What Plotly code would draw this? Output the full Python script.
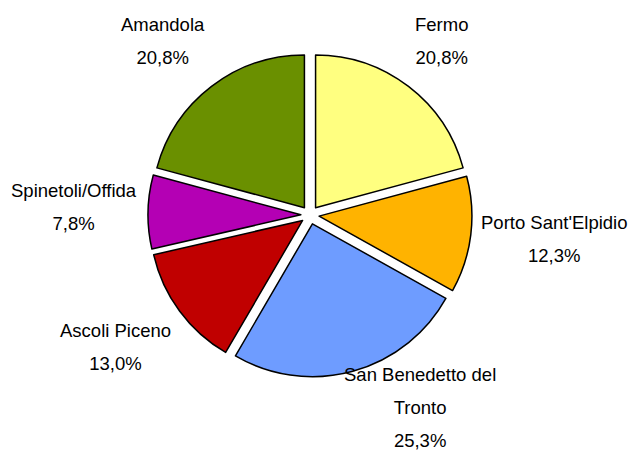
import math
import plotly.graph_objects as go

categories = ["Fermo", "Porto Sant'Elpidio", "San Benedetto del Tronto",
              "Ascoli Piceno", "Spinetoli/Offida", "Amandola"]
label_lines = [["Fermo"], ["Porto Sant'Elpidio"], ["San Benedetto del", "Tronto"],
               ["Ascoli Piceno"], ["Spinetoli/Offida"], ["Amandola"]]
shares = [20.8, 12.3, 25.3, 13.0, 7.8, 20.8]
colors = ["#FFFF80", "#FFB300", "#6E9CFF", "#C00000", "#B400B4", "#6A9000"]

W, H = 629, 461
ML, MR, MT, MB = 148, 157, 53, 84
PULL = 0.06
FONT = "Liberation Sans, Arial, sans-serif"
TXT = 18.5          # glyph size
PITCH = 33          # line pitch in px
LABEL_DIST = 173    # distance of label anchor from pie centre, px
BASELINE_FIX = 4    # small upward correction for text box centring, px

# Arial / Liberation Sans advance widths (per 1000 em) for text measuring
ADV = {c: 556 for c in "abdeghnopqu0123456789"}
ADV.update({"c": 500, "k": 500, "s": 500, "v": 500, "x": 500, "y": 500, "z": 500,
            "f": 278, "t": 278, "i": 222, "j": 222, "l": 222, "r": 333, "m": 833, "w": 722,
            " ": 278, ",": 278, ".": 278, "/": 278, "'": 191, "%": 889,
            "A": 667, "B": 667, "E": 667, "F": 611, "O": 778, "P": 667, "S": 667, "T": 611})


def text_width(t):
    return sum(ADV.get(ch, 600) for ch in t) * TXT / 1000


fig = go.Figure(go.Pie(
    labels=categories,
    values=shares,
    sort=False,
    direction="clockwise",
    rotation=0,
    pull=[PULL] * len(shares),
    marker=dict(colors=colors, line=dict(color="black", width=1.5)),
    textinfo="none",
    hoverinfo="label+percent",
    showlegend=False,
))

# label placement around the pie (Excel style: outside, kept inside the chart)
pw, ph = W - ML - MR, H - MT - MB
cx, cy = ML + pw / 2, MT + ph / 2
total = sum(shares)
start = 0.0
annotations = []
for lines, v in zip(label_lines, shares):
    pct = f"{v / total * 100:.1f}".replace(".", ",") + "%"
    all_lines = lines + [pct]
    mid = math.radians((start + v / 2) / total * 360)
    start += v
    s, c = math.sin(mid), math.cos(mid)
    w = max(text_width(t) for t in all_lines)
    h = len(all_lines) * PITCH
    ax = cx + LABEL_DIST * s
    ay = cy - LABEL_DIST * c
    px = ax + w / 2 * math.copysign(min(1.0, 1.7 * abs(s)), s)
    py = ay - h / 2 * math.copysign(min(1.0, 1.7 * abs(c)), c)
    # keep label box inside the chart
    over = py + h / 2 - H
    if over > 0:
        py -= over
        px += math.copysign(1.5 * over, s)
    if py - h / 2 < 0:
        py = h / 2
    px = min(max(px, w / 2 + 2), W - w / 2 - 2)
    py -= BASELINE_FIX
    text = "<br>".join(f"<span style='font-size:{TXT}px'>{t}</span>" for t in all_lines)
    annotations.append(dict(
        x=(px - ML) / pw, y=1 - (py - MT) / ph, xref="paper", yref="paper",
        text=text, showarrow=False, xanchor="center", yanchor="middle", align="center",
        font=dict(family=FONT, size=PITCH / 1.3, color="black"),
    ))

fig.update_layout(
    width=W, height=H,
    paper_bgcolor="white", plot_bgcolor="white",
    margin=dict(l=ML, r=MR, t=MT, b=MB),
    annotations=annotations,
)

fig.write_html("out.html", config={"displayModeBar": False},
               post_script="document.body.style.margin='0px';")
